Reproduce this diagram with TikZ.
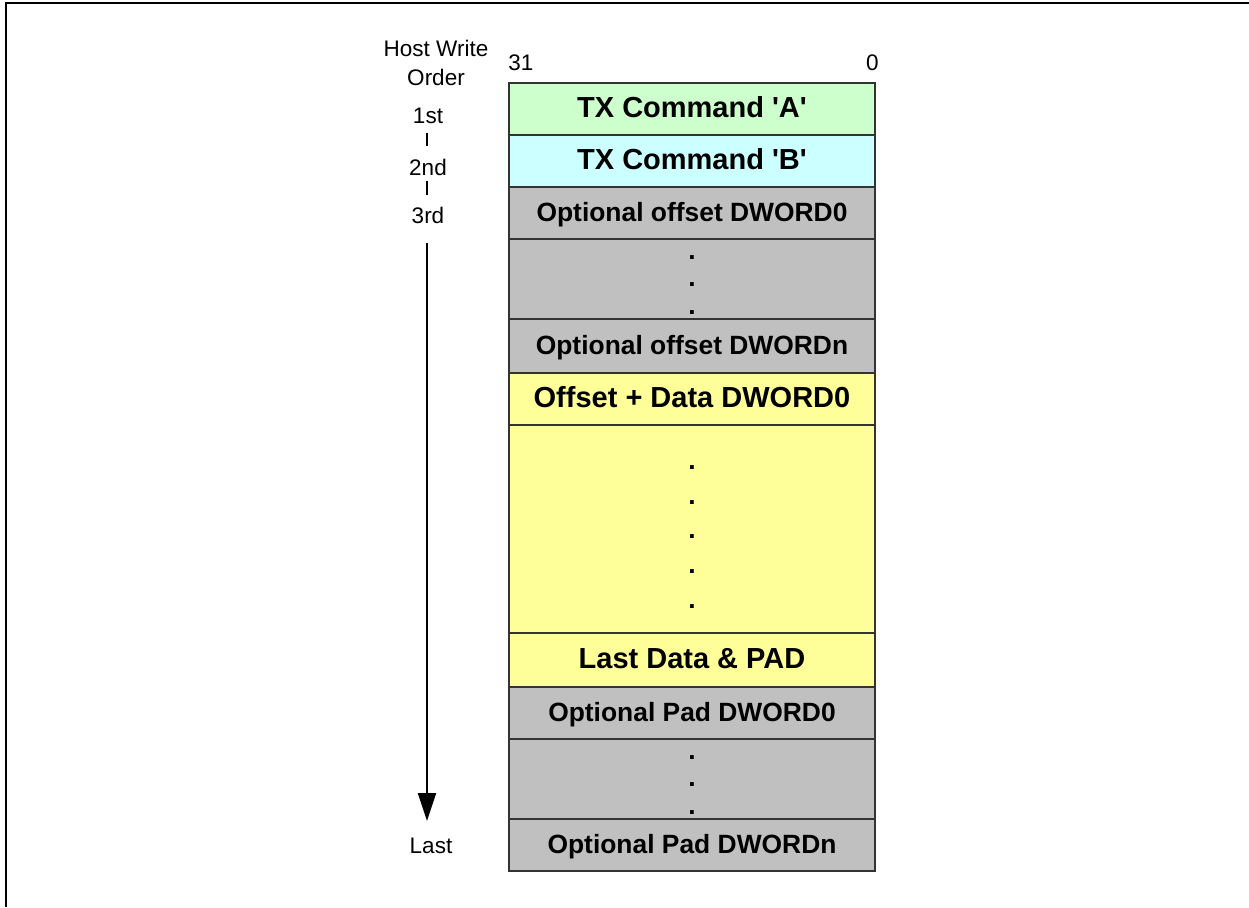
\documentclass[tikz,border=0pt]{standalone}
\usepackage{fontspec}
\setmainfont{Liberation Sans}
\usetikzlibrary{arrows.meta}
\definecolor{cmdA}{HTML}{CCFFCC}
\definecolor{cmdB}{HTML}{CCFFFF}
\definecolor{optgray}{HTML}{C0C0C0}
\definecolor{datayel}{HTML}{FFFF99}
\begin{document}
\begin{tikzpicture}[x=0.5pt,y=-0.5pt,
  row/.style={draw=black!80, line width=0.7pt, minimum width=183pt, inner sep=0pt,
              text height=8pt, text depth=0pt},
  bigtxt/.style={font=\fontsize{14.5}{17}\selectfont\bfseries},
  smalltxt/.style={font=\fontsize{13.2}{16}\selectfont\bfseries},
  dotl/.style={font=\fontsize{13.2}{16}\selectfont\bfseries, inner sep=0pt, anchor=base},
  lab/.style={font=\fontsize{11.25}{13}\selectfont, inner sep=0pt, anchor=base},
  tick/.style={line width=1pt},
  order/.style={line width=1pt, -{Triangle[width=9pt,length=14pt]}},
  frame/.style={line width=1pt}]
\useasboundingbox (0,0) rectangle (1249,907);
% frame
\coordinate (fb) at (6,907);
\coordinate (fc) at (6,2.5);
\coordinate (fr) at (1249,2.5);
\draw[frame] (fb) -- (fc) -- (fr);
% rows
\node[row, bigtxt, fill=cmdA, minimum height=26pt] (rA) at (692,109) {TX Command \textquotesingle A\textquotesingle};
\node[row, bigtxt, fill=cmdB, minimum height=26pt] (rB) at (692,161) {TX Command \textquotesingle B\textquotesingle};
\node[row, smalltxt, fill=optgray, minimum height=26pt] (rO0) at (692,213) {Optional offset DWORD0};
\node[row, fill=optgray, minimum height=40pt] (rOd) at (692,279) {};
\node[row, smalltxt, fill=optgray, minimum height=27pt] (rOn) at (692,346) {Optional offset DWORDn};
\node[row, bigtxt, fill=datayel, minimum height=26pt] (rD0) at (692,399) {Offset + Data DWORD0};
\node[row, fill=datayel, minimum height=104pt] (rDd) at (692,529) {};
\node[row, bigtxt, fill=datayel, minimum height=27pt] (rL) at (692,660) {Last Data \& PAD};
\node[row, smalltxt, fill=optgray, minimum height=26pt] (rP0) at (692,713) {Optional Pad DWORD0};
\node[row, fill=optgray, minimum height=40pt] (rPd) at (692,779) {};
\node[row, smalltxt, fill=optgray, minimum height=26pt] (rPn) at (692,845) {Optional Pad DWORDn};
% dots
\node[dotl] (d1) at (692,259) {.};
\node[dotl] (d2) at (692,286) {.};
\node[dotl] (d3) at (692,314) {.};
\node[dotl] (d4) at (692,469) {.};
\node[dotl] (d5) at (692,504) {.};
\node[dotl] (d6) at (692,538) {.};
\node[dotl] (d7) at (692,573) {.};
\node[dotl] (d8) at (692,608) {.};
\node[dotl] (d9) at (692,759) {.};
\node[dotl] (d10) at (692,786) {.};
\node[dotl] (d11) at (692,814) {.};
% bit labels
\node[lab, anchor=base west] (b31) at (508,70) {31};
\node[lab, anchor=base east] (b0) at (879,70) {0};
% order labels
\node[lab] (hw1) at (436,56) {Host Write};
\node[lab] (hw2) at (436,85) {Order};
\node[lab] (o1) at (428,123) {1st};
\node[lab] (o2) at (428,175) {2nd};
\node[lab] (o3) at (428,223) {3rd};
\node[lab] (oL) at (431,853) {Last};
% ticks
\coordinate (t1a) at (427,133);
\coordinate (t1b) at (427,146);
\coordinate (t2a) at (427,181);
\coordinate (t2b) at (427,195);
\draw[tick] (t1a) -- (t1b);
\draw[tick] (t2a) -- (t2b);
% order arrow
\coordinate (aTop) at (427,243);
\coordinate (aEnd) at (427,821);
\draw[order] (aTop) -- (aEnd);
\end{tikzpicture}
\end{document}
